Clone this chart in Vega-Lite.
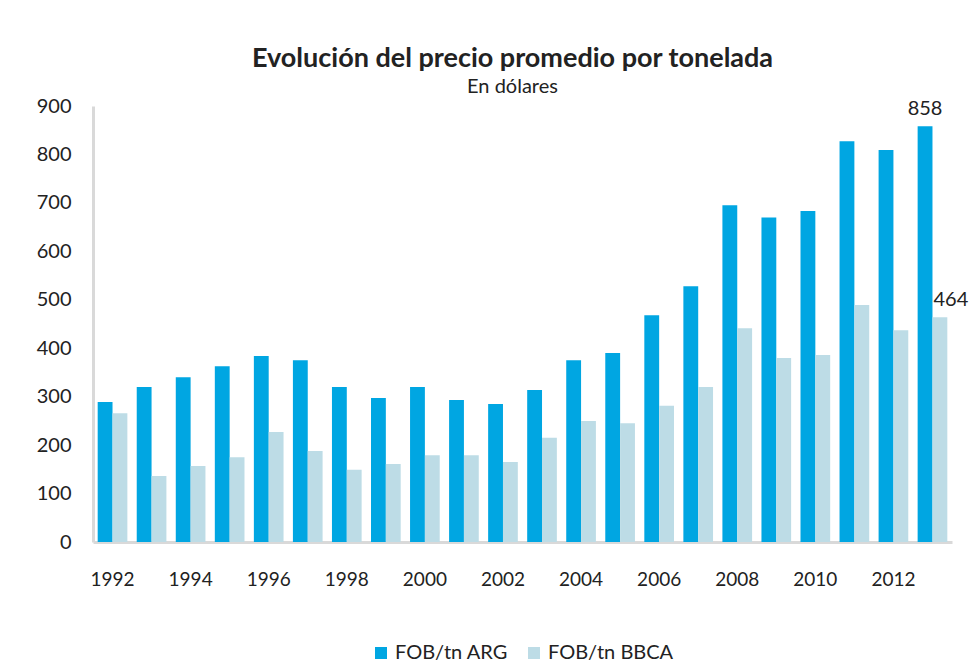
{
  "$schema": "https://vega.github.io/schema/vega-lite/v6.json",
  "width": 859,
  "height": 436,
  "padding": {"left": 36, "top": 45, "right": 5, "bottom": 5},
  "background": "white",
  "title": {
    "text": "Evolución del precio promedio por tonelada",
    "subtitle": "En dólares",
    "font": "Lato",
    "fontSize": 27,
    "fontWeight": "bold",
    "color": "#222222",
    "subtitleFont": "Lato",
    "subtitleFontSize": 20,
    "subtitleColor": "#222222",
    "subtitlePadding": 4,
    "anchor": "middle",
    "dx": -10,
    "offset": -2
  },
  "data": {
    "values": [
      {"year": 1992, "serie": "FOB/tn ARG", "valor": 289}, {"year": 1992, "serie": "FOB/tn BBCA", "valor": 266},
      {"year": 1993, "serie": "FOB/tn ARG", "valor": 320}, {"year": 1993, "serie": "FOB/tn BBCA", "valor": 136},
      {"year": 1994, "serie": "FOB/tn ARG", "valor": 340}, {"year": 1994, "serie": "FOB/tn BBCA", "valor": 157},
      {"year": 1995, "serie": "FOB/tn ARG", "valor": 363}, {"year": 1995, "serie": "FOB/tn BBCA", "valor": 175},
      {"year": 1996, "serie": "FOB/tn ARG", "valor": 384}, {"year": 1996, "serie": "FOB/tn BBCA", "valor": 227},
      {"year": 1997, "serie": "FOB/tn ARG", "valor": 375}, {"year": 1997, "serie": "FOB/tn BBCA", "valor": 188},
      {"year": 1998, "serie": "FOB/tn ARG", "valor": 320}, {"year": 1998, "serie": "FOB/tn BBCA", "valor": 149},
      {"year": 1999, "serie": "FOB/tn ARG", "valor": 297}, {"year": 1999, "serie": "FOB/tn BBCA", "valor": 161},
      {"year": 2000, "serie": "FOB/tn ARG", "valor": 320}, {"year": 2000, "serie": "FOB/tn BBCA", "valor": 179},
      {"year": 2001, "serie": "FOB/tn ARG", "valor": 293}, {"year": 2001, "serie": "FOB/tn BBCA", "valor": 179},
      {"year": 2002, "serie": "FOB/tn ARG", "valor": 285}, {"year": 2002, "serie": "FOB/tn BBCA", "valor": 165},
      {"year": 2003, "serie": "FOB/tn ARG", "valor": 314}, {"year": 2003, "serie": "FOB/tn BBCA", "valor": 215},
      {"year": 2004, "serie": "FOB/tn ARG", "valor": 375}, {"year": 2004, "serie": "FOB/tn BBCA", "valor": 250},
      {"year": 2005, "serie": "FOB/tn ARG", "valor": 390}, {"year": 2005, "serie": "FOB/tn BBCA", "valor": 245},
      {"year": 2006, "serie": "FOB/tn ARG", "valor": 468}, {"year": 2006, "serie": "FOB/tn BBCA", "valor": 281},
      {"year": 2007, "serie": "FOB/tn ARG", "valor": 528}, {"year": 2007, "serie": "FOB/tn BBCA", "valor": 320},
      {"year": 2008, "serie": "FOB/tn ARG", "valor": 695}, {"year": 2008, "serie": "FOB/tn BBCA", "valor": 441},
      {"year": 2009, "serie": "FOB/tn ARG", "valor": 670}, {"year": 2009, "serie": "FOB/tn BBCA", "valor": 380},
      {"year": 2010, "serie": "FOB/tn ARG", "valor": 683}, {"year": 2010, "serie": "FOB/tn BBCA", "valor": 386},
      {"year": 2011, "serie": "FOB/tn ARG", "valor": 827}, {"year": 2011, "serie": "FOB/tn BBCA", "valor": 489},
      {"year": 2012, "serie": "FOB/tn ARG", "valor": 809}, {"year": 2012, "serie": "FOB/tn BBCA", "valor": 437},
      {"year": 2013, "serie": "FOB/tn ARG", "valor": 858}, {"year": 2013, "serie": "FOB/tn BBCA", "valor": 464}
    ]
  },
  "encoding": {
    "x": {
      "field": "year",
      "type": "ordinal",
      "title": null,
      "scale": {"paddingInner": 0.24, "paddingOuter": 0.12},
      "axis": {
        "values": [1992, 1994, 1996, 1998, 2000, 2002, 2004, 2006, 2008, 2010, 2012],
        "labelAngle": 0,
        "ticks": false,
        "labelPadding": 28,
        "labelFont": "Lato",
        "labelFontSize": 19,
        "labelColor": "#222222",
        "domainColor": "#D9D9D9",
        "domainWidth": 3
      }
    },
    "xOffset": {"field": "serie", "type": "nominal", "scale": {"domain": ["FOB/tn ARG", "FOB/tn BBCA"]}},
    "y": {
      "field": "valor",
      "type": "quantitative",
      "title": null,
      "scale": {"domain": [0, 900], "nice": false},
      "axis": {
        "values": [0, 100, 200, 300, 400, 500, 600, 700, 800, 900],
        "grid": false,
        "ticks": false,
        "labelPadding": 22,
        "labelFont": "Lato",
        "labelFontSize": 20,
        "labelColor": "#222222",
        "domainColor": "#D9D9D9",
        "domainWidth": 3
      }
    }
  },
  "layer": [
    {
      "mark": {"type": "bar"},
      "encoding": {
        "color": {
          "field": "serie",
          "type": "nominal",
          "title": null,
          "scale": {"domain": ["FOB/tn ARG", "FOB/tn BBCA"], "range": ["#00A6E2", "#BDDCE6"]},
          "legend": {
            "orient": "bottom",
            "direction": "horizontal",
            "offset": 54,
            "symbolType": "square",
            "symbolSize": 144,
            "symbolStrokeWidth": 0,
            "labelFont": "Lato",
            "labelFontSize": 20,
            "labelColor": "#222222",
            "columnPadding": 16
          }
        }
      }
    },
    {
      "transform": [{"filter": "datum.year == 2013 && datum.serie == 'FOB/tn ARG'"}],
      "mark": {"type": "text", "dy": -17, "font": "Lato", "fontSize": 20, "color": "#222222"},
      "encoding": {"text": {"field": "valor", "type": "quantitative"}}
    },
    {
      "transform": [{"filter": "datum.year == 2013 && datum.serie == 'FOB/tn BBCA'"}],
      "mark": {"type": "text", "dy": -17, "dx": 11, "font": "Lato", "fontSize": 20, "color": "#222222"},
      "encoding": {"text": {"field": "valor", "type": "quantitative"}}
    }
  ],
  "config": {
    "view": {"stroke": null},
    "legend": {"layout": {"bottom": {"anchor": "middle"}}}
  }
}
